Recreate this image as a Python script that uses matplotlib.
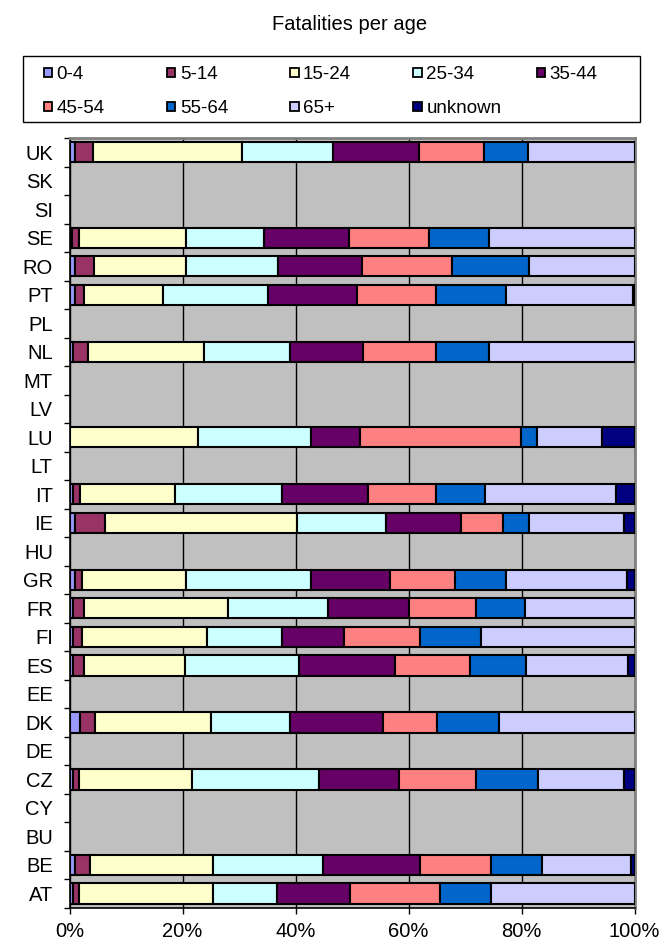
import matplotlib
matplotlib.use("Agg")
import matplotlib.pyplot as plt
from matplotlib.patches import Rectangle
import numpy as np

plt.rcParams['font.family'] = ['Liberation Sans', 'DejaVu Sans']

countries = ["AT", "BE", "BU", "CY", "CZ", "DE", "DK", "EE", "ES", "FI", "FR", "GR", "HU",
             "IE", "IT", "LT", "LU", "LV", "MT", "NL", "PL", "PT", "RO", "SE", "SI", "SK", "UK"]
age_groups = ["0-4", "5-14", "15-24", "25-34", "35-44", "45-54", "55-64", "65+", "unknown"]

# shares (%) per country, order of age_groups
AT = [0.6, 1.1, 23.7, 11.4, 12.9, 15.8, 9.1, 25.4, 0.0]
BE = [1.0, 2.6, 21.8, 19.4, 17.2, 12.6, 9.1, 15.7, 0.6]
BU = [0, 0, 0, 0, 0, 0, 0, 0, 0]
CY = [0, 0, 0, 0, 0, 0, 0, 0, 0]
CZ = [0.6, 1.1, 19.9, 22.5, 14.2, 13.7, 11.0, 15.2, 1.8]
DE = [0, 0, 0, 0, 0, 0, 0, 0, 0]
DK = [1.9, 2.7, 20.4, 14.1, 16.3, 9.6, 11.0, 24.0, 0.0]
EE = [0, 0, 0, 0, 0, 0, 0, 0, 0]
ES = [0.7, 1.8, 17.9, 20.2, 17.0, 13.3, 9.9, 18.1, 1.1]
FI = [0.6, 1.7, 22.1, 13.2, 10.9, 13.6, 10.8, 27.1, 0.0]
FR = [0.6, 2.0, 25.5, 17.6, 14.4, 11.8, 8.8, 19.3, 0.0]
GR = [1.0, 1.2, 18.5, 22.1, 14.0, 11.5, 9.0, 21.3, 1.4]
HU = [0, 0, 0, 0, 0, 0, 0, 0, 0]
IE = [1.0, 5.3, 34.0, 15.7, 13.3, 7.5, 4.6, 16.7, 1.9]
IT = [0.6, 1.2, 16.8, 19.0, 15.3, 12.0, 8.7, 23.2, 3.2]
LT = [0, 0, 0, 0, 0, 0, 0, 0, 0]
LU = [0.0, 0.0, 22.8, 19.9, 8.7, 28.5, 2.9, 11.4, 5.8]
LV = [0, 0, 0, 0, 0, 0, 0, 0, 0]
MT = [0, 0, 0, 0, 0, 0, 0, 0, 0]
NL = [0.6, 2.7, 20.5, 15.3, 12.8, 13.0, 9.4, 25.7, 0.0]
PL = [0, 0, 0, 0, 0, 0, 0, 0, 0]
PT = [0.9, 1.6, 14.0, 18.7, 15.6, 14.1, 12.4, 22.5, 0.2]
RO = [1.0, 3.3, 16.3, 16.3, 14.9, 15.9, 13.6, 18.7, 0.0]
SE = [0.5, 1.1, 19.1, 13.7, 15.0, 14.3, 10.6, 25.7, 0.0]
SI = [0, 0, 0, 0, 0, 0, 0, 0, 0]
SK = [0, 0, 0, 0, 0, 0, 0, 0, 0]
UK = [1.0, 3.1, 26.5, 16.1, 15.2, 11.4, 7.8, 18.9, 0.0]

rows = [AT, BE, BU, CY, CZ, DE, DK, EE, ES, FI, FR, GR, HU, IE, IT, LT, LU, LV, MT,
        NL, PL, PT, RO, SE, SI, SK, UK]
data = np.array(rows, dtype=float)
totals = data.sum(axis=1)
totals[totals == 0] = 1
share = data / totals[:, None] * 100

colors = ["#9999FF", "#993366", "#FFFFCC", "#CCFFFF", "#660066",
          "#FF8080", "#0066CC", "#CCCCFF", "#000080"]

W, H = 663, 941
fig = plt.figure(figsize=(W / 100, H / 100), dpi=100)
ax = fig.add_axes([69.5 / W, 1 - 907.7 / H, 565 / W, 769.7 / H])
ax.set_facecolor("#C0C0C0")

y = np.arange(len(countries))
left = np.zeros(len(countries))
for j, g in enumerate(age_groups):
    vals = share[:, j]
    mask = vals > 0
    ax.barh(y[mask], vals[mask], left=left[mask], height=0.71, color=colors[j],
            edgecolor="black", linewidth=1.5, zorder=3)
    left += vals

ax.set_xlim(0, 100)
ax.set_ylim(-0.5, len(countries) - 0.5)
ax.set_xticks([0, 20, 40, 60, 80, 100])
ax.set_xticklabels(["0%", "20%", "40%", "60%", "80%", "100%"], fontsize=14.5)
ax.set_yticks(y)
ax.set_yticklabels(countries, fontsize=14.5)
ax.set_yticks(np.arange(-0.5, len(countries), 1), minor=True)
ax.tick_params(axis="y", which="major", length=0, pad=12)
ax.tick_params(axis="y", which="minor", length=4, width=1, direction="out")
ax.tick_params(axis="x", which="major", length=4, width=1, direction="out", pad=6)
ax.xaxis.grid(True, color="black", linewidth=1, zorder=1)
ax.set_axisbelow(True)
for s in ["top", "right"]:
    ax.spines[s].set_color("#808080")
    ax.spines[s].set_linewidth(2)
ax.spines["left"].set_linewidth(1.2)
ax.spines["bottom"].set_linewidth(1.2)

fig.text(350 / W, 1 - 30 / H, "Fatalities per age", ha="center", va="baseline", fontsize=14.5)

# legend (Excel-style: 5 columns, filled row by row)
def fx(px):
    return px / W

def fy(py):
    return 1 - py / H

frame = Rectangle((fx(23.3), fy(122.3)), fx(639.7) - fx(23.3), fy(55.7) - fy(122.3),
                  transform=fig.transFigure, facecolor="white", edgecolor="black",
                  linewidth=1.0, zorder=5)
fig.add_artist(frame)
col_x = [43.5, 166.8, 290.1, 413.4, 536.7]
row_y = [72.7, 106.7]
msize = 8.5
for k, (lab, c) in enumerate(zip(age_groups, colors)):
    r, cidx = divmod(k, 5)
    mx, my = col_x[cidx], row_y[r]
    fig.add_artist(Rectangle((fx(mx), fy(my + msize / 2)), msize / W, msize / H,
                             transform=fig.transFigure, facecolor=c, edgecolor="black",
                             linewidth=1.3, zorder=6))
    fig.text(fx(mx + msize + 4.5), fy(my), lab, ha="left", va="center_baseline",
             fontsize=13.5, zorder=6)

fig.savefig("out.png", dpi=100)
